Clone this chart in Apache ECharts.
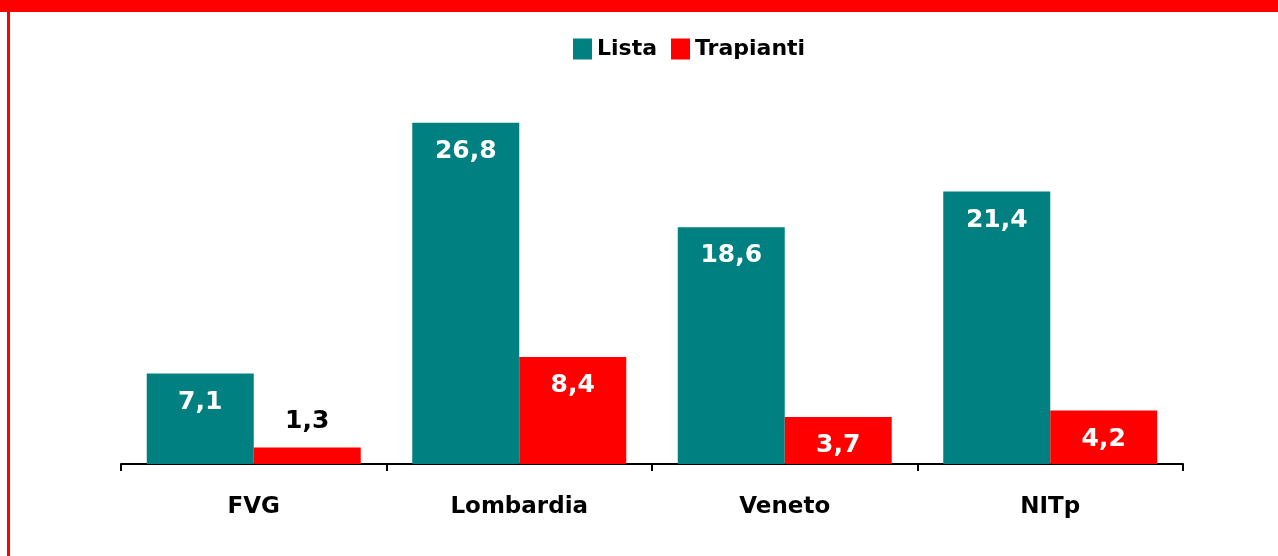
<!DOCTYPE html>
<html>
<head>
<meta charset="utf-8">
<script src="https://cdn.jsdelivr.net/npm/echarts@6/dist/echarts.min.js"></script>
<style>
    html, body { margin: 0; padding: 0; background: #fff; }
    #chart { width: 1278px; height: 556px; }
</style>
</head>
<body>
<div id="chart"></div>
<script>
    // dati
    var regioni = ['FVG', 'Lombardia', 'Veneto', 'NITp']
    var lista = [7.1, 26.8, 18.6, 21.4]
    var trapianti = [1.3, 8.4, 3.7, 4.2]

    var font = 'DejaVu Sans'
    var fmt = function (p) {
        return String(p.value).replace('.', ',')
    }
    var labelInside = {
        show: true,
        position: 'insideTop',
        distance: 16,
        color: '#fff',
        fontFamily: font,
        fontWeight: 'bold',
        fontSize: 25,
        formatter: fmt
    }

    // la barra bassa (1,3) ha l'etichetta sopra, in nero
    var trapiantiData = trapianti.map(function (v) {
        if (v < 3) {
            return {
                value: v,
                label: { position: 'top', distance: 13, color: '#000' }
            }
        }
        return v
    })

    var dom = echarts.init(document.getElementById('chart'))
    dom.setOption({
        animation: false,
        color: ['#008080', '#ff0000'],
        graphic: [
            { type: 'rect', left: 0, top: 0, shape: { width: 1278, height: 12 }, style: { fill: '#ff0000' } },
            { type: 'rect', left: 7, top: 0, shape: { width: 3, height: 556 }, style: { fill: '#ff0000' } }
        ],
        legend: {
            left: 568,
            top: 33,
            itemWidth: 19,
            itemHeight: 21,
            itemGap: 14,
            icon: 'rect',
            textStyle: {
                fontFamily: font,
                fontWeight: 'bold',
                fontSize: 22,
                color: '#000'
            },
            data: ['Lista', 'Trapianti']
        },
        grid: {
            left: 121,
            right: 95,
            top: 82,
            bottom: 92
        },
        xAxis: {
            type: 'category',
            data: regioni,
            axisLine: { lineStyle: { color: '#000', width: 2 } },
            axisTick: { show: true, length: 7, lineStyle: { color: '#000', width: 2 } },
            axisLabel: {
                margin: 32,
                color: '#000',
                fontFamily: font,
                fontWeight: 'bold',
                fontSize: 23
            }
        },
        yAxis: {
            type: 'value',
            min: 0,
            max: 30,
            show: false,
            splitLine: { show: false }
        },
        series: [{
            name: 'Lista',
            type: 'bar',
            data: lista,
            barGap: 0,
            barCategoryGap: '19.4%',
            label: labelInside
        }, {
            name: 'Trapianti',
            type: 'bar',
            data: trapiantiData,
            barGap: 0,
            barCategoryGap: '19.4%',
            label: labelInside
        }]
    })
</script>
</body>
</html>
